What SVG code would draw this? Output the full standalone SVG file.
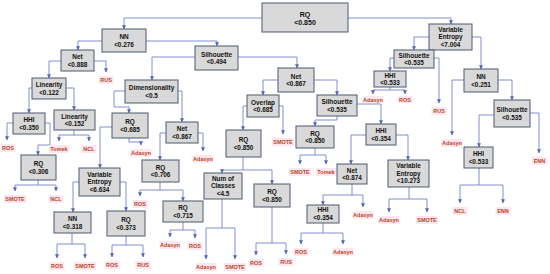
<svg xmlns="http://www.w3.org/2000/svg" width="550" height="274" viewBox="0 0 550 274">
<defs>
<marker id="a" viewBox="0 0 6 6" refX="5.5" refY="3" markerWidth="4" markerHeight="4" markerUnits="userSpaceOnUse" orient="auto"><path d="M0,0L6,3L0,6z" fill="#5563b5"/></marker>
</defs>
<style>
.n rect{fill:#d9d9d9;stroke:#4d5a70;stroke-width:1}
.n text{font-family:"Liberation Sans","Open Sans",sans-serif;font-weight:bold;font-size:6.4px;fill:#111;text-anchor:middle}
.n.root text{font-size:7px}
.l rect{fill:#fde6ee}
.l text{font-family:"Liberation Sans","Open Sans",sans-serif;font-weight:bold;font-size:5.5px;fill:#b5472b;text-anchor:middle}
#connectors path{fill:none;stroke:#7381c9;stroke-width:0.9;marker-end:url(#a)}
</style>
<rect width="550" height="274" fill="#fff"/>
<g id="connectors">
<path d="M262,18H124V29"/>
<path d="M348,18H451V24"/>
<path d="M102,41H78V50"/>
<path d="M146,41H217V46"/>
<path d="M61,61H49V78"/>
<path d="M94,61H106V72"/>
<path d="M32,88H29V113"/>
<path d="M66,88H74V110"/>
<path d="M13,123H7V140"/>
<path d="M45,123H50V145H38V155"/>
<path d="M74,130V135H59V141"/>
<path d="M74,135H89V141"/>
<path d="M195,57H152V80"/>
<path d="M238,57H297V68"/>
<path d="M125,91H114V107H129V113"/>
<path d="M178,91H182V122"/>
<path d="M112,127H100V168"/>
<path d="M129,138V142H141V145"/>
<path d="M166,133H160V160"/>
<path d="M198,133H203V151"/>
<path d="M38,180V185H15V191"/>
<path d="M38,185H56V191"/>
<path d="M79,182H73V212"/>
<path d="M120,182H126V211"/>
<path d="M160,182V190H140V196"/>
<path d="M160,190H183V201"/>
<path d="M183,222V230H170V237"/>
<path d="M183,230H195V238"/>
<path d="M72,233V244H57V258"/>
<path d="M72,244H85V258"/>
<path d="M126,236V245H112V257"/>
<path d="M126,245H143V257"/>
<path d="M278,80H263V95"/>
<path d="M314,80H337V95"/>
<path d="M247,106H243V130"/>
<path d="M279,106H283V134"/>
<path d="M337,116V120H315V126"/>
<path d="M357,104H381V124"/>
<path d="M315,148V155H300V164"/>
<path d="M315,155H326V164"/>
<path d="M366,135H351V164"/>
<path d="M396,135H408V160"/>
<path d="M243,157V170H222V173"/>
<path d="M243,170H272V184"/>
<path d="M222,199V228H206V259"/>
<path d="M222,228H235V259"/>
<path d="M272,207V243H256V255"/>
<path d="M272,243H286V254"/>
<path d="M352,184V195H323V205"/>
<path d="M352,195H363V207"/>
<path d="M323,223V233H301V244"/>
<path d="M323,233H343V244"/>
<path d="M409,187V199H389V212"/>
<path d="M409,199H427V212"/>
<path d="M429,37H414V50"/>
<path d="M472,37H481V69"/>
<path d="M394,58H390V71"/>
<path d="M434,58H439V103"/>
<path d="M390,87V90H373V94"/>
<path d="M390,90H405V94"/>
<path d="M464,80H452V135"/>
<path d="M498,80H512V100"/>
<path d="M494,115H479V147"/>
<path d="M530,113H539V153"/>
<path d="M479,168V185H460V203"/>
<path d="M479,185H503V203"/>
</g>
<g id="n-root" class="n root"><rect x="262" y="3" width="86" height="29"/><text x="305" y="16.5">RQ</text><text x="305" y="25">&lt;0.850</text></g>
<g id="n-nn276" class="n"><rect x="102" y="29" width="44" height="23"/><text x="124" y="39">NN</text><text x="124" y="46.5">&lt;0.276</text></g>
<g id="n-net888" class="n"><rect x="61" y="50" width="33" height="21"/><text x="77.5" y="59">Net</text><text x="77.5" y="66.5">&lt;0.888</text></g>
<g id="n-sil494" class="n"><rect x="195" y="46" width="43" height="24"/><text x="216.5" y="56.5">Silhouette</text><text x="216.5" y="64">&lt;0.494</text></g>
<g id="n-lin122" class="n"><rect x="32" y="78" width="34" height="21"/><text x="49" y="87">Linearity</text><text x="49" y="94.5">&lt;0.122</text></g>
<g id="n-dim" class="n"><rect x="125" y="80" width="53" height="23"/><text x="151.5" y="90">Dimensionality</text><text x="151.5" y="97.5">&lt;0.5</text></g>
<g id="n-hhi350" class="n"><rect x="13" y="113" width="32" height="21"/><text x="29" y="122">HHI</text><text x="29" y="129.5">&lt;0.350</text></g>
<g id="n-lin152" class="n"><rect x="54" y="110" width="41" height="20"/><text x="74.5" y="118.5">Linearity</text><text x="74.5" y="126">&lt;0.152</text></g>
<g id="n-rq685" class="n"><rect x="112" y="113" width="36" height="25"/><text x="130" y="124">RQ</text><text x="130" y="131.5">&lt;0.685</text></g>
<g id="n-net867b" class="n"><rect x="166" y="122" width="32" height="21"/><text x="182" y="131">Net</text><text x="182" y="138.5">&lt;0.867</text></g>
<g id="n-rq306" class="n"><rect x="21" y="155" width="35" height="25"/><text x="38.5" y="166">RQ</text><text x="38.5" y="173.5">&lt;0.306</text></g>
<g id="n-ve634" class="n"><rect x="79" y="168" width="41" height="28"/><text x="99.5" y="176.5">Variable</text><text x="99.5" y="184">Entropy</text><text x="99.5" y="191.5">&lt;6.634</text></g>
<g id="n-rq706" class="n"><rect x="142" y="160" width="37" height="22"/><text x="160.5" y="169.5">RQ</text><text x="160.5" y="177">&lt;0.706</text></g>
<g id="n-rq715" class="n"><rect x="163" y="201" width="40" height="21"/><text x="183" y="210">RQ</text><text x="183" y="217.5">&lt;0.715</text></g>
<g id="n-nn318" class="n"><rect x="54" y="212" width="37" height="21"/><text x="72.5" y="221">NN</text><text x="72.5" y="228.5">&lt;0.318</text></g>
<g id="n-rq373" class="n"><rect x="107" y="211" width="38" height="25"/><text x="126" y="222">RQ</text><text x="126" y="229.5">&lt;0.373</text></g>
<g id="n-net867a" class="n"><rect x="278" y="68" width="36" height="24"/><text x="296" y="78.5">Net</text><text x="296" y="86">&lt;0.867</text></g>
<g id="n-ovl" class="n"><rect x="247" y="95" width="32" height="22"/><text x="263" y="104.5">Overlap</text><text x="263" y="112">&lt;0.685</text></g>
<g id="n-sil535m" class="n"><rect x="317" y="95" width="40" height="21"/><text x="337" y="104">Silhouette</text><text x="337" y="111.5">&lt;0.535</text></g>
<g id="n-rq850c" class="n"><rect x="226" y="130" width="35" height="27"/><text x="243.5" y="142">RQ</text><text x="243.5" y="149.5">&lt;0.850</text></g>
<g id="n-rq850d" class="n"><rect x="296" y="126" width="38" height="22"/><text x="315" y="135.5">RQ</text><text x="315" y="143">&lt;0.850</text></g>
<g id="n-noc" class="n"><rect x="204" y="173" width="38" height="26"/><text x="223" y="180.5">Num of</text><text x="223" y="188">Classes</text><text x="223" y="195.5">&lt;4.5</text></g>
<g id="n-rq850e" class="n"><rect x="254" y="184" width="36" height="23"/><text x="272" y="194">RQ</text><text x="272" y="201.5">&lt;0.850</text></g>
<g id="n-hhi354a" class="n"><rect x="366" y="124" width="30" height="21"/><text x="381" y="133">HHI</text><text x="381" y="140.5">&lt;0.354</text></g>
<g id="n-net874" class="n"><rect x="337" y="164" width="30" height="20"/><text x="352" y="172.5">Net</text><text x="352" y="180">&lt;0.874</text></g>
<g id="n-ve10273" class="n"><rect x="388" y="160" width="41" height="27"/><text x="408.5" y="168">Variable</text><text x="408.5" y="175.5">Entropy</text><text x="408.5" y="183">&lt;10.273</text></g>
<g id="n-hhi354b" class="n"><rect x="307" y="205" width="32" height="18"/><text x="323" y="212">HHI</text><text x="323" y="219.5">&lt;0.354</text></g>
<g id="n-ve7004" class="n"><rect x="429" y="24" width="43" height="26"/><text x="450.5" y="31.5">Variable</text><text x="450.5" y="39">Entropy</text><text x="450.5" y="46.5">&lt;7.004</text></g>
<g id="n-sil535r1" class="n"><rect x="394" y="50" width="40" height="18"/><text x="414" y="57.5">Silhouette</text><text x="414" y="65">&lt;0.535</text></g>
<g id="n-hhi533a" class="n"><rect x="374" y="71" width="32" height="16"/><text x="390" y="77.5">HHI</text><text x="390" y="85">&lt;0.533</text></g>
<g id="n-nn251" class="n"><rect x="464" y="69" width="34" height="23"/><text x="481" y="79">NN</text><text x="481" y="86.5">&lt;0.251</text></g>
<g id="n-sil535r2" class="n"><rect x="494" y="100" width="36" height="27"/><text x="512" y="112">Silhouette</text><text x="512" y="119.5">&lt;0.535</text></g>
<g id="n-hhi533b" class="n"><rect x="464" y="147" width="29" height="21"/><text x="478.5" y="156">HHI</text><text x="478.5" y="163.5">&lt;0.533</text></g>
<g id="l1" class="l"><rect x="98.5" y="76" width="15" height="8"/><text x="106" y="82">RUS</text></g>
<g id="l2" class="l"><rect x="0.5" y="144" width="15" height="8"/><text x="8" y="150">ROS</text></g>
<g id="l3" class="l"><rect x="49" y="145" width="20" height="8"/><text x="59" y="151">Tomek</text></g>
<g id="l4" class="l"><rect x="81.5" y="145" width="15" height="8"/><text x="89" y="151">NCL</text></g>
<g id="l5" class="l"><rect x="130.5" y="149" width="21" height="8"/><text x="141" y="155">Adasyn</text></g>
<g id="l6" class="l"><rect x="192.5" y="155" width="21" height="8"/><text x="203" y="161">Adasyn</text></g>
<g id="l7" class="l"><rect x="4" y="195" width="22" height="8"/><text x="15" y="201">SMOTE</text></g>
<g id="l8" class="l"><rect x="48.5" y="195" width="15" height="8"/><text x="56" y="201">NCL</text></g>
<g id="l9" class="l"><rect x="132.5" y="200" width="15" height="8"/><text x="140" y="206">ROS</text></g>
<g id="l10" class="l"><rect x="159.5" y="241" width="21" height="8"/><text x="170" y="247">Adasyn</text></g>
<g id="l11" class="l"><rect x="187.5" y="242" width="15" height="8"/><text x="195" y="248">ROS</text></g>
<g id="l12" class="l"><rect x="49.5" y="262" width="15" height="8"/><text x="57" y="268">ROS</text></g>
<g id="l13" class="l"><rect x="74" y="262" width="22" height="8"/><text x="85" y="268">SMOTE</text></g>
<g id="l14" class="l"><rect x="104.5" y="261" width="15" height="8"/><text x="112" y="267">ROS</text></g>
<g id="l15" class="l"><rect x="135.5" y="261" width="15" height="8"/><text x="143" y="267">RUS</text></g>
<g id="l16" class="l"><rect x="272" y="138" width="22" height="8"/><text x="283" y="144">SMOTE</text></g>
<g id="l17" class="l"><rect x="289" y="168" width="22" height="8"/><text x="300" y="174">SMOTE</text></g>
<g id="l18" class="l"><rect x="316" y="168" width="20" height="8"/><text x="326" y="174">Tomek</text></g>
<g id="l19" class="l"><rect x="195.5" y="263" width="21" height="8"/><text x="206" y="269">Adasyn</text></g>
<g id="l20" class="l"><rect x="224" y="263" width="22" height="8"/><text x="235" y="269">SMOTE</text></g>
<g id="l21" class="l"><rect x="248.5" y="259" width="15" height="8"/><text x="256" y="265">ROS</text></g>
<g id="l22" class="l"><rect x="278.5" y="258" width="15" height="8"/><text x="286" y="264">RUS</text></g>
<g id="l23" class="l"><rect x="352.5" y="211" width="21" height="8"/><text x="363" y="217">Adasyn</text></g>
<g id="l24" class="l"><rect x="293.5" y="248" width="15" height="8"/><text x="301" y="254">ROS</text></g>
<g id="l25" class="l"><rect x="332.5" y="248" width="21" height="8"/><text x="343" y="254">Adasyn</text></g>
<g id="l26" class="l"><rect x="378.5" y="216" width="21" height="8"/><text x="389" y="222">Adasyn</text></g>
<g id="l27" class="l"><rect x="416" y="216" width="22" height="8"/><text x="427" y="222">SMOTE</text></g>
<g id="l28" class="l"><rect x="431.5" y="107" width="15" height="8"/><text x="439" y="113">RUS</text></g>
<g id="l29" class="l"><rect x="362.5" y="96" width="21" height="7"/><text x="373" y="101.5">Adasyn</text></g>
<g id="l30" class="l"><rect x="397.5" y="96" width="15" height="7"/><text x="405" y="101.5">ROS</text></g>
<g id="l31" class="l"><rect x="441.5" y="139" width="21" height="8"/><text x="452" y="145">Adasyn</text></g>
<g id="l32" class="l"><rect x="532" y="157" width="15" height="8"/><text x="539.5" y="163">ENN</text></g>
<g id="l33" class="l"><rect x="452.5" y="207" width="15" height="8"/><text x="460" y="213">NCL</text></g>
<g id="l34" class="l"><rect x="495.5" y="207" width="15" height="8"/><text x="503" y="213">ENN</text></g>
</svg>
